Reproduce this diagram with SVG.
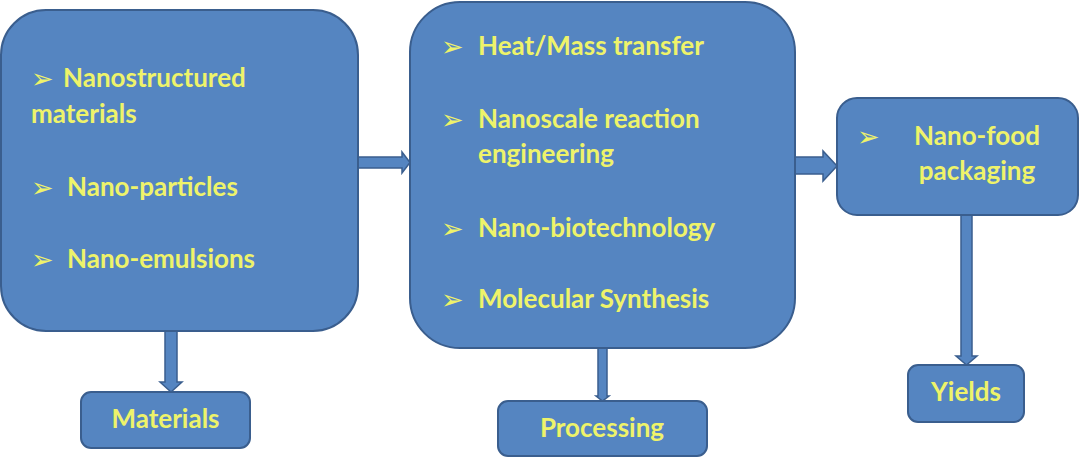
<svg xmlns="http://www.w3.org/2000/svg" width="1080" height="457" viewBox="0 0 1080 457">
<style>
.box{fill:#5585C1;stroke:#3A5E8E;stroke-width:2}
.arr{fill:#5585C1;stroke:#3A5E8E;stroke-width:1.5;stroke-linejoin:miter}
.t{font-family:Lato,"Liberation Sans",sans-serif;font-weight:bold;font-size:26px;fill:#EEF36A}
.b{font-family:"DejaVu Sans",sans-serif;font-size:27px;fill:#EEF36A}
</style>
<rect width="1080" height="457" fill="#ffffff"/>
<g id="connectors">
<polygon class="arr" points="358,157 402,157 402,152 410,162.5 402,173 402,168 358,168"/>
<polygon class="arr" points="795,157 823,157 823,151 837,166 823,181 823,174 795,174"/>
<polygon class="arr" points="165,331 177,331 177,382 182,382 171,392 160,382 165,382"/>
<polygon class="arr" points="598,348 607,348 607,396 609,396 602.5,401 596,396 598,396"/>
<polygon class="arr" points="961,215 972,215 972,356 977,356 966.5,365 956,356 961,356"/>
</g>
<g id="node-materials-list">
<rect class="box" x="1" y="10" width="357" height="321" rx="45"/>
<text class="b" x="31" y="88">➢</text><text class="t" x="63" y="87">Nanostructured</text>
<text class="t" x="31" y="123">materials</text>
<text class="b" x="31" y="197">➢</text><text class="t" x="67" y="196">Nano-particles</text>
<text class="b" x="31" y="269">➢</text><text class="t" x="67" y="268">Nano-emulsions</text>
</g>
<g id="node-processing-list">
<rect class="box" x="410" y="2" width="385" height="346" rx="50"/>
<text class="b" x="441" y="56">➢</text><text class="t" x="478" y="55">Heat/Mass transfer</text>
<text class="b" x="441" y="129">➢</text><text class="t" x="478" y="128">Nanoscale reaction</text>
<text class="t" x="478" y="163">engineering</text>
<text class="b" x="441" y="238">➢</text><text class="t" x="478" y="237">Nano-biotechnology</text>
<text class="b" x="441" y="309">➢</text><text class="t" x="478" y="308">Molecular Synthesis</text>
</g>
<g id="node-packaging">
<rect class="box" x="837" y="98" width="241" height="117" rx="20"/>
<text class="b" x="857" y="146">➢</text>
<text class="t" x="977" y="145" text-anchor="middle">Nano-food</text>
<text class="t" x="977" y="180" text-anchor="middle">packaging</text>
</g>
<g id="node-materials">
<rect class="box" x="81" y="392" width="169" height="56" rx="10"/>
<text class="t" x="165.5" y="428" text-anchor="middle">Materials</text>
</g>
<g id="node-processing">
<rect class="box" x="498" y="401" width="209" height="55" rx="10"/>
<text class="t" x="602" y="437" text-anchor="middle">Processing</text>
</g>
<g id="node-yields">
<rect class="box" x="908" y="365" width="116" height="57" rx="10"/>
<text class="t" x="966" y="401" text-anchor="middle">Yields</text>
</g>
</svg>
